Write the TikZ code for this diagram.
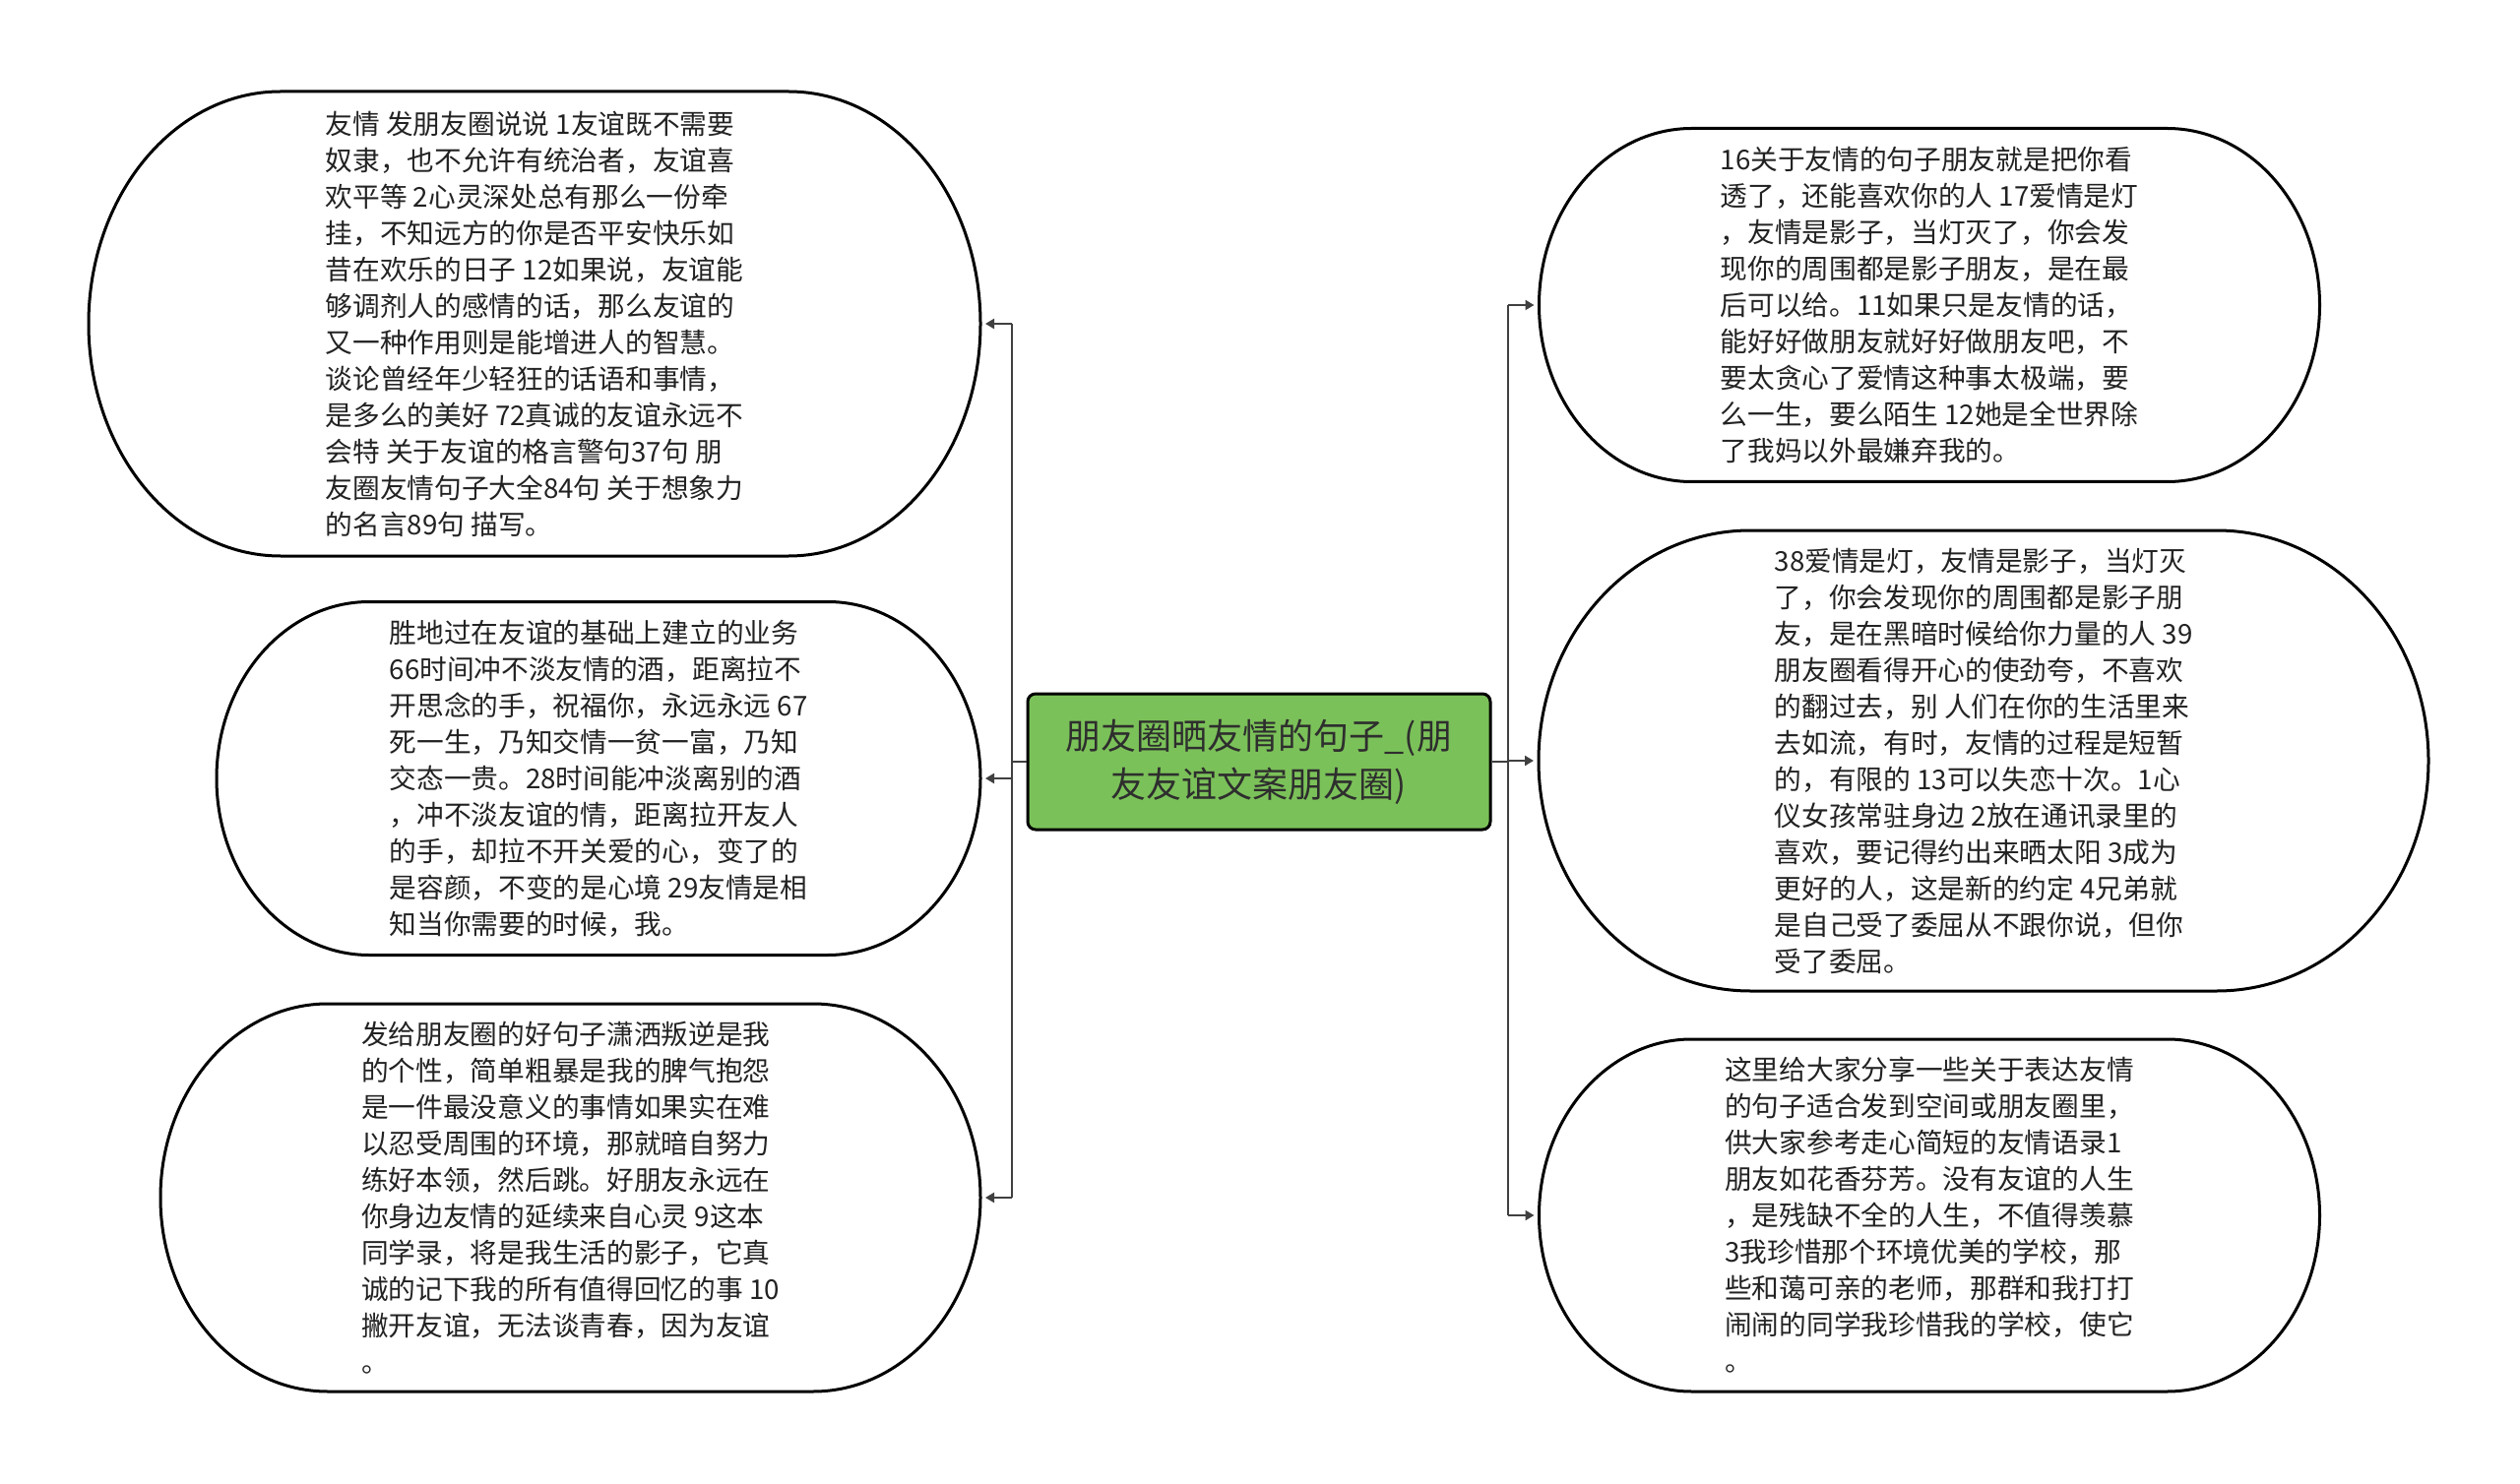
\documentclass[tikz,border=0pt]{standalone}
\usepackage{fontspec}
\setmainfont{Noto Sans CJK SC}
\usetikzlibrary{arrows.meta}
\definecolor{rootgreen}{HTML}{7BC159}
\definecolor{linegray}{HTML}{404040}
\definecolor{txtdark}{HTML}{222222}
\definecolor{roottxt}{HTML}{2E2E2E}
\newcommand\bubbleoutline[3]{%
  \draw[bubline] ([xshift=#2*0.5pt]#1.north west) -- ([xshift=-#2*0.5pt]#1.north east)
    arc[start angle=90, end angle=-90, x radius=#2*0.5pt, y radius=#3*0.5pt]
    -- ([xshift=#2*0.5pt]#1.south west)
    arc[start angle=270, end angle=90, x radius=#2*0.5pt, y radius=#3*0.5pt] -- cycle;}
\begin{document}
\begin{tikzpicture}[x=0.5pt,y=0.5pt,
  bubtext/.style={draw=none, inner sep=0pt, outer sep=0pt, align=left, text=txtdark,
    font={\fontsize{13.85pt}{18.5pt}\selectfont}},
  bubline/.style={draw=black, line width=1.5pt},
  rootbox/.style={draw=black, fill=rootgreen, line width=1.5pt, rounded corners=4pt,
    minimum width=235pt, minimum height=69pt, inner sep=0pt, align=center, text=roottxt,
    font={\fontsize{18pt}{24.5pt}\selectfont}},
  conn/.style={draw=linegray, line width=1.3pt},
  arr/.style={conn, -{Triangle[length=4.5pt,width=5pt]}, shorten >=2.5pt}]
\fill[white] (0,0) rectangle (2560,-1508);
\useasboundingbox (0,0) rectangle (2560,-1508);

% root
\node[rootbox] (C) at (1279,-774) {朋友圈晒友情的句子\_(朋\\友友谊文案朋友圈)};

% left bubbles
\node[bubtext, minimum width=453pt, minimum height=236pt] (L1) at (543,-329) {友情 发朋友圈说说 1友谊既不需要\\奴隶，也不允许有统治者，友谊喜\\欢平等 2心灵深处总有那么一份牵\\挂，不知远方的你是否平安快乐如\\昔在欢乐的日子 12如果说，友谊能\\够调剂人的感情的话，那么友谊的\\又一种作用则是能增进人的智慧。\\谈论曾经年少轻狂的话语和事情，\\是多么的美好 72真诚的友谊永远不\\会特 关于友谊的格言警句37句 朋\\友圈友情句子大全84句 关于想象力\\的名言89句 描写。};
\bubbleoutline{L1}{195}{236}

\node[bubtext, minimum width=388pt, minimum height=179.5pt] (L2) at (608,-791) {胜地过在友谊的基础上建立的业务\\66时间冲不淡友情的酒，距离拉不\\开思念的手，祝福你，永远永远 67\\死一生，乃知交情一贫一富，乃知\\交态一贵。28时间能冲淡离别的酒\\，冲不淡友谊的情，距离拉开友人\\的手，却拉不开关爱的心，变了的\\是容颜，不变的是心境 29友情是相\\知当你需要的时候，我。};
\bubbleoutline{L2}{155}{179.5}

\node[bubtext, minimum width=416.5pt, minimum height=197pt] (L3) at (579.5,-1217) {发给朋友圈的好句子潇洒叛逆是我\\的个性，简单粗暴是我的脾气抱怨\\是一件最没意义的事情如果实在难\\以忍受周围的环境，那就暗自努力\\练好本领，然后跳。好朋友永远在\\你身边友情的延续来自心灵 9这本\\同学录，将是我生活的影子，它真\\诚的记下我的所有值得回忆的事 10\\撇开友谊，无法谈青春，因为友谊\\。};
\bubbleoutline{L3}{170}{197}

% right bubbles
\node[bubtext, minimum width=396.5pt, minimum height=179.5pt] (R1) at (1960,-310) {16关于友情的句子朋友就是把你看\\透了，还能喜欢你的人 17爱情是灯\\，友情是影子，当灯灭了，你会发\\现你的周围都是影子朋友，是在最\\后可以给。11如果只是友情的话，\\能好好做朋友就好好做朋友吧，不\\要太贪心了爱情这种事太极端，要\\么一生，要么陌生 12她是全世界除\\了我妈以外最嫌弃我的。};
\bubbleoutline{R1}{155}{179.5}

\node[bubtext, minimum width=452pt, minimum height=234pt] (R2) at (2015,-773) {38爱情是灯，友情是影子，当灯灭\\了，你会发现你的周围都是影子朋\\友，是在黑暗时候给你力量的人 39\\朋友圈看得开心的使劲夸，不喜欢\\的翻过去，别 人们在你的生活里来\\去如流，有时，友情的过程是短暂\\的，有限的 13可以失恋十次。1心\\仪女孩常驻身边 2放在通讯录里的\\喜欢，要记得约出来晒太阳 3成为\\更好的人，这是新的约定 4兄弟就\\是自己受了委屈从不跟你说，但你\\受了委屈。};
\bubbleoutline{R2}{215}{234}

\node[bubtext, minimum width=396.5pt, minimum height=179pt] (R3) at (1960,-1235) {这里给大家分享一些关于表达友情\\的句子适合发到空间或朋友圈里，\\供大家参考走心简短的友情语录1\\朋友如花香芬芳。没有友谊的人生\\，是残缺不全的人生，不值得羡慕\\3我珍惜那个环境优美的学校，那\\些和蔼可亲的老师，那群和我打打\\闹闹的同学我珍惜我的学校，使它\\。};
\bubbleoutline{R3}{155}{179}

% connectors
\coordinate (jl) at (1028,-774);
\coordinate (jr) at (1532,-774);
\draw[conn] (C.west) -- (jl);
\draw[conn] (C.east) -- (jr);
\draw[conn] (jl |- L1.east) -- (jl |- L3.east);
\draw[conn] (jr |- R1.west) -- (jr |- R3.west);
\draw[arr] (jl |- L1.east) -- (L1.east);
\draw[arr] (jl |- L2.east) -- (L2.east);
\draw[arr] (jl |- L3.east) -- (L3.east);
\draw[arr] (jr |- R1.west) -- (R1.west);
\draw[arr] (jr |- R2.west) -- (R2.west);
\draw[arr] (jr |- R3.west) -- (R3.west);
\end{tikzpicture}
\end{document}
